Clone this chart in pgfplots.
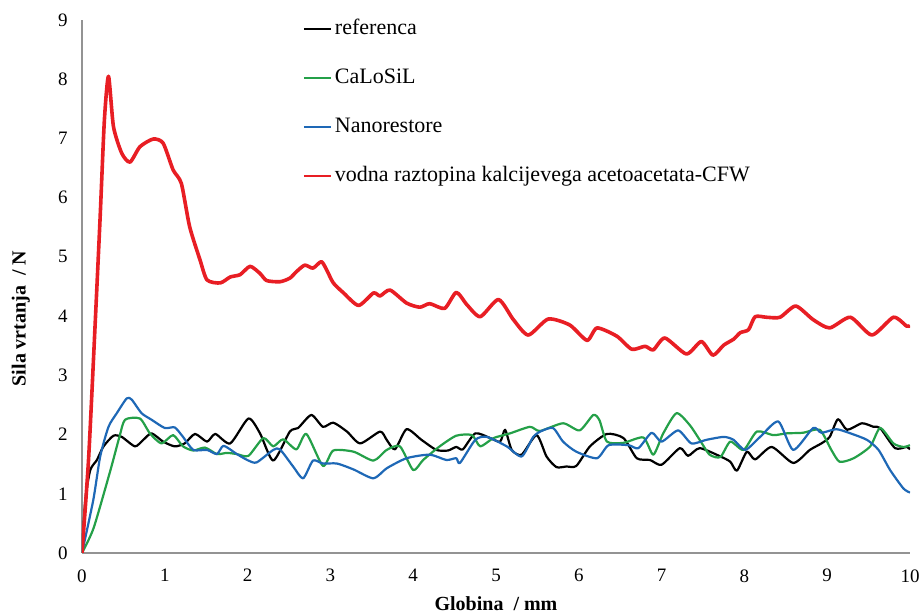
\documentclass[border=0pt]{standalone}
\usepackage{fontspec}
\setmainfont{Liberation Serif}
\usepackage{pgfplots}
\pgfplotsset{compat=1.18}
\definecolor{refBlack}{RGB}{0,0,0}
\definecolor{calGreen}{RGB}{36,160,72}
\definecolor{nanoBlue}{RGB}{30,104,182}
\definecolor{cfwRed}{RGB}{232,30,36}

\begin{document}
\begin{tikzpicture}
  \begin{axis}[
      scale only axis,
      width=414pt, height=266.5pt,
      xmin=0, xmax=10, ymin=0, ymax=9,
      xtick={0,1,...,10}, ytick={0,1,...,9},
      axis lines=left,
      axis line style={draw=gray!85, line width=0.8pt, -},
      major tick length=0pt,
      /pgf/number format/assume math mode=true,
      tick label style={font=\fontsize{9.5}{11}\selectfont},
      xticklabel style={inner sep=0pt, anchor=north, yshift=-8pt},
      yticklabel style={inner sep=0pt, anchor=east, xshift=-7pt},
      xlabel={\textbf{Globina\ \ / mm}},
      ylabel={\textbf{Sila vrtanja\ \ / N}},
      label style={font=\fontsize{10}{12}\selectfont},
      xlabel style={at={(axis description cs:0.5,-0.0957)}, anchor=center},
      ylabel style={at={(axis description cs:-0.074,0.44)}, anchor=center, rotate=0},
      legend cell align=left,
      legend style={at={(axis description cs:0.2669,1)}, anchor=north west,
        draw=none, fill=none, inner sep=0pt, outer sep=0pt,
        row sep=15pt, font=\fontsize{11}{13}\selectfont,
        nodes={inner sep=0pt, text height=7.5pt, text depth=2pt},
        /tikz/every odd column/.style={column sep=1.5pt}},
      legend image code/.code={\draw[#1, line width=1pt] (0pt,0pt) -- (13.5pt,0pt);},
      every axis plot/.append style={smooth, tension=0.4, line join=round},
    ]
    % referenca
    \addplot[refBlack, line width=1.1pt] coordinates {
      (0,0) (0.04,0.9) (0.10,1.40) (0.18,1.57) (0.26,1.80) (0.38,1.98) (0.48,1.96)
      (0.64,1.80) (0.74,1.91) (0.84,2.02) (0.98,1.88) (1.12,1.80) (1.24,1.85)
      (1.365,2.01) (1.51,1.88) (1.61,2.01) (1.79,1.85) (2.01,2.27) (2.15,2.02)
      (2.31,1.56) (2.51,2.05) (2.61,2.11) (2.77,2.33) (2.91,2.13) (3.035,2.20)
      (3.20,2.05) (3.36,1.85) (3.60,2.05) (3.68,1.91) (3.78,1.75) (3.92,2.09)
      (4.10,1.91) (4.28,1.74) (4.42,1.73) (4.52,1.79) (4.60,1.75) (4.75,2.02)
      (4.93,1.94) (5.05,1.88) (5.11,2.08) (5.19,1.74) (5.31,1.66) (5.49,1.99)
      (5.61,1.63) (5.73,1.45) (5.85,1.46) (5.97,1.47) (6.135,1.80) (6.34,2.01)
      (6.54,1.94) (6.70,1.60) (6.86,1.57) (7.00,1.49) (7.22,1.77) (7.32,1.64)
      (7.46,1.77) (7.71,1.63) (7.83,1.54) (7.91,1.39) (8.03,1.71) (8.13,1.58)
      (8.33,1.79) (8.59,1.52) (8.79,1.74) (8.93,1.85) (9.03,1.96) (9.13,2.26)
      (9.24,2.08) (9.42,2.19) (9.56,2.13) (9.64,2.11) (9.82,1.77) (9.96,1.79)
      (10,1.75)
    };
    \addlegendentry{referenca}
    % CaLoSiL
    \addplot[calGreen, line width=1.1pt] coordinates {
      (0,0) (0.14,0.42) (0.34,1.38) (0.45,1.95) (0.52,2.25) (0.70,2.27) (0.82,2.02)
      (0.96,1.85) (1.10,1.99) (1.22,1.80) (1.345,1.73) (1.485,1.78) (1.63,1.67)
      (1.75,1.69) (1.87,1.67) (2.01,1.64) (2.19,1.94) (2.31,1.80) (2.43,1.92)
      (2.59,1.75) (2.71,2.01) (2.91,1.47) (3.035,1.73) (3.28,1.71) (3.52,1.56)
      (3.68,1.74) (3.84,1.80) (4.00,1.40) (4.12,1.57) (4.32,1.80) (4.52,1.98)
      (4.71,1.99) (4.81,1.80) (4.97,1.94) (5.17,2.02) (5.41,2.13) (5.53,2.06)
      (5.81,2.19) (6.01,2.07) (6.175,2.33) (6.25,2.24) (6.34,1.88) (6.54,1.86)
      (6.78,1.95) (6.90,1.66) (7.02,2.02) (7.18,2.36) (7.34,2.16) (7.46,1.91)
      (7.58,1.66) (7.71,1.62) (7.83,1.88) (7.99,1.74) (8.15,2.05) (8.35,1.99)
      (8.51,2.02) (8.71,2.03) (8.91,2.08) (9.05,1.74) (9.15,1.54) (9.32,1.60)
      (9.52,1.80) (9.64,2.11) (9.80,1.85) (9.92,1.79) (10,1.82)
    };
    \addlegendentry{CaLoSiL}
    % Nanorestore
    \addplot[nanoBlue, line width=1.1pt] coordinates {
      (0,0) (0.137,0.90) (0.22,1.63) (0.32,2.13) (0.42,2.36) (0.54,2.61) (0.60,2.59)
      (0.72,2.36) (0.84,2.25) (1.00,2.11) (1.12,2.12) (1.22,1.96) (1.345,1.74)
      (1.51,1.74) (1.63,1.67) (1.71,1.81) (1.87,1.67) (2.01,1.56) (2.11,1.53)
      (2.31,1.74) (2.39,1.75) (2.55,1.46) (2.67,1.26) (2.79,1.56) (2.91,1.51)
      (3.08,1.51) (3.28,1.41) (3.52,1.26) (3.68,1.43) (3.92,1.60) (4.20,1.66)
      (4.40,1.57) (4.52,1.60) (4.565,1.52) (4.75,1.91) (4.89,1.96) (5.13,1.80)
      (5.31,1.63) (5.45,1.96) (5.55,2.06) (5.69,2.11) (5.81,1.88) (5.97,1.71)
      (6.22,1.60) (6.36,1.82) (6.60,1.82) (6.72,1.77) (6.88,2.03) (7.00,1.88)
      (7.20,2.07) (7.36,1.85) (7.54,1.91) (7.75,1.96) (7.87,1.91) (8.01,1.74)
      (8.19,1.96) (8.41,2.22) (8.59,1.74) (8.83,2.11) (8.93,2.03) (9.11,2.09)
      (9.28,2.02) (9.48,1.91) (9.62,1.74) (9.76,1.40) (9.92,1.09) (10,1.02)
    };
    \addlegendentry{Nanorestore}
    % vodna raztopina kalcijevega acetoacetata-CFW
    \addplot[cfwRed, line width=1.8pt] coordinates {
      (0,0) (0.08,1.6) (0.16,3.9) (0.22,5.7) (0.27,7.3) (0.32,8.05) (0.38,7.2)
      (0.48,6.75) (0.58,6.6) (0.70,6.86) (0.86,6.99) (0.98,6.92) (1.10,6.47)
      (1.20,6.24) (1.30,5.51) (1.425,4.95) (1.51,4.61) (1.67,4.56) (1.79,4.66)
      (1.91,4.70) (2.03,4.84) (2.15,4.72) (2.23,4.60) (2.39,4.58) (2.51,4.64)
      (2.59,4.75) (2.69,4.86) (2.79,4.81) (2.89,4.92) (2.955,4.78) (3.035,4.56)
      (3.16,4.39) (3.34,4.18) (3.52,4.39) (3.60,4.34) (3.72,4.44) (3.92,4.22)
      (4.08,4.15) (4.20,4.21) (4.38,4.13) (4.52,4.40) (4.65,4.19) (4.81,3.99)
      (5.03,4.28) (5.21,3.94) (5.39,3.68) (5.63,3.95) (5.89,3.85) (6.10,3.59)
      (6.22,3.80) (6.46,3.66) (6.64,3.44) (6.80,3.49) (6.90,3.43) (7.04,3.63)
      (7.30,3.36) (7.48,3.57) (7.62,3.34) (7.75,3.51) (7.87,3.61) (7.95,3.72)
      (8.05,3.77) (8.13,3.99) (8.27,3.98) (8.43,3.98) (8.62,4.17) (8.83,3.94)
      (9.03,3.80) (9.28,3.98) (9.54,3.68) (9.80,3.98) (9.96,3.83) (10,3.84)
    };
    \addlegendentry{vodna raztopina kalcijevega acetoacetata-CFW}
  \end{axis}
  \pgfresetboundingbox
  \path ([xshift=-41pt,yshift=-30.5pt]current axis.south west)
    rectangle ([xshift=6.5pt,yshift=10pt]current axis.north east);
\end{tikzpicture}
\end{document}
